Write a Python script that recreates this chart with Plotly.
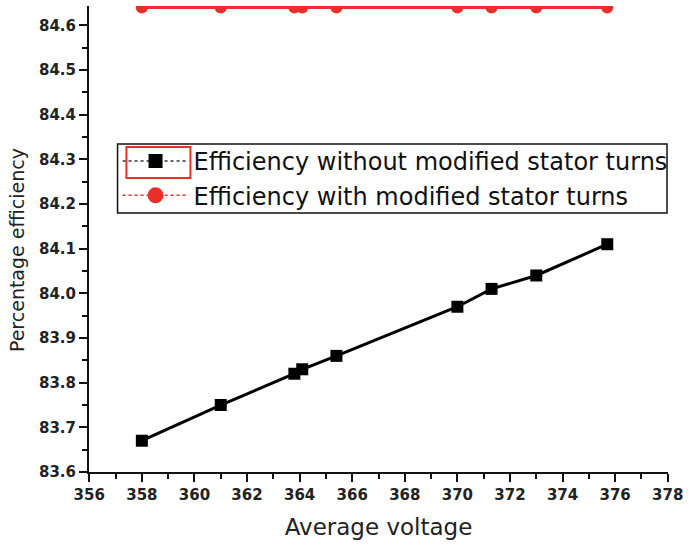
import plotly.graph_objects as go

voltage = [358.0, 361.0, 363.8, 364.1, 365.4, 370.0, 371.3, 373.0, 375.7]
eff_without = [83.67, 83.75, 83.82, 83.83, 83.86, 83.97, 84.01, 84.04, 84.11]
eff_with = [84.64, 84.64, 84.64, 84.64, 84.64, 84.64, 84.64, 84.64, 84.64]
names = ["Efficiency without modified stator turns", "Efficiency with modified stator turns"]
x_title = "Average voltage"
y_title = "Percentage efficiency"

RED = "#e8302a"
fig = go.Figure()
fig.add_trace(go.Scatter(x=voltage, y=eff_without, mode="lines+markers",
                         line=dict(color="black", width=3),
                         marker=dict(symbol="square", size=12, color="black"),
                         showlegend=False))
fig.add_trace(go.Scatter(x=voltage, y=eff_with, mode="lines+markers",
                         line=dict(color=RED, width=3),
                         marker=dict(symbol="circle", size=12, color=RED),
                         showlegend=False))
# legend entries (dotted symbol lines as in the reference)
fig.add_trace(go.Scatter(x=[None], y=[None], mode="lines+markers", name=names[0],
                         line=dict(color="#333", width=1.5, dash="dot"),
                         marker=dict(symbol="square", size=14, color="black")))
fig.add_trace(go.Scatter(x=[None], y=[None], mode="lines+markers", name=names[1],
                         line=dict(color=RED, width=1.5, dash="dot"),
                         marker=dict(symbol="circle", size=16, color=RED)))

# pixel -> paper helpers for the legend frame
L, R, T, B = 89, 677, 6, 472
def px(x): return (x - L) / (R - L)
def py(y): return (B - y) / (B - T)
# legend frame
fig.add_shape(type="rect", xref="paper", yref="paper", layer="above",
              x0=px(118), x1=px(676), y0=py(213), y1=py(144),
              line=dict(color="#111", width=1.5))
# red selection box around first legend symbol
fig.add_shape(type="rect", xref="paper", yref="paper", layer="above",
              x0=px(127), x1=px(192), y0=py(178), y1=py(147),
              line=dict(color=RED, width=2))

TXT = "#222"
fig.add_annotation(text=y_title, xref="paper", yref="paper", x=px(16), y=py(250),
                   textangle=-90, showarrow=False, xanchor="center", yanchor="middle",
                   font=dict(size=19, color=TXT, family="DejaVu Sans"))

fig.update_layout(
    width=689, height=545,
    margin=dict(l=L, r=689 - R, t=T, b=545 - B),
    paper_bgcolor="white", plot_bgcolor="white",
    font=dict(family="DejaVu Sans", color=TXT),
    legend=dict(x=px(118), y=py(139), xanchor="left", yanchor="top",
                borderwidth=0, bgcolor="rgba(0,0,0,0)",
                font=dict(size=24, color="#111", family="DejaVu Sans"), tracegroupgap=0,
                itemwidth=66),
    xaxis=dict(range=[355.99, 378.01], dtick=2, tick0=356, showline=True, linecolor="#111",
               linewidth=2, ticks="outside", ticklen=8, tickwidth=2, tickcolor="#111",
               showgrid=False, zeroline=False, ticklabeloverflow="allow",
               minor=dict(dtick=1, ticks="outside", ticklen=5, tickwidth=2, tickcolor="#111"),
               tickfont=dict(size=15, color=TXT, family="DejaVu Sans", weight="bold"),
               title=dict(text=x_title, font=dict(size=23, color=TXT), standoff=16)),
    yaxis=dict(range=[83.6, 84.6434], dtick=0.1, tick0=83.6, tickformat=".1f", showline=True,
               linecolor="#111", linewidth=2, ticks="outside", ticklen=8, tickwidth=2,
               tickcolor="#111", showgrid=False, zeroline=False,
               minor=dict(dtick=0.05, ticks="outside", ticklen=5, tickwidth=2, tickcolor="#111"),
               tickfont=dict(size=15, color=TXT, family="DejaVu Sans", weight="bold")),
)
fig.write_html("out.html")
